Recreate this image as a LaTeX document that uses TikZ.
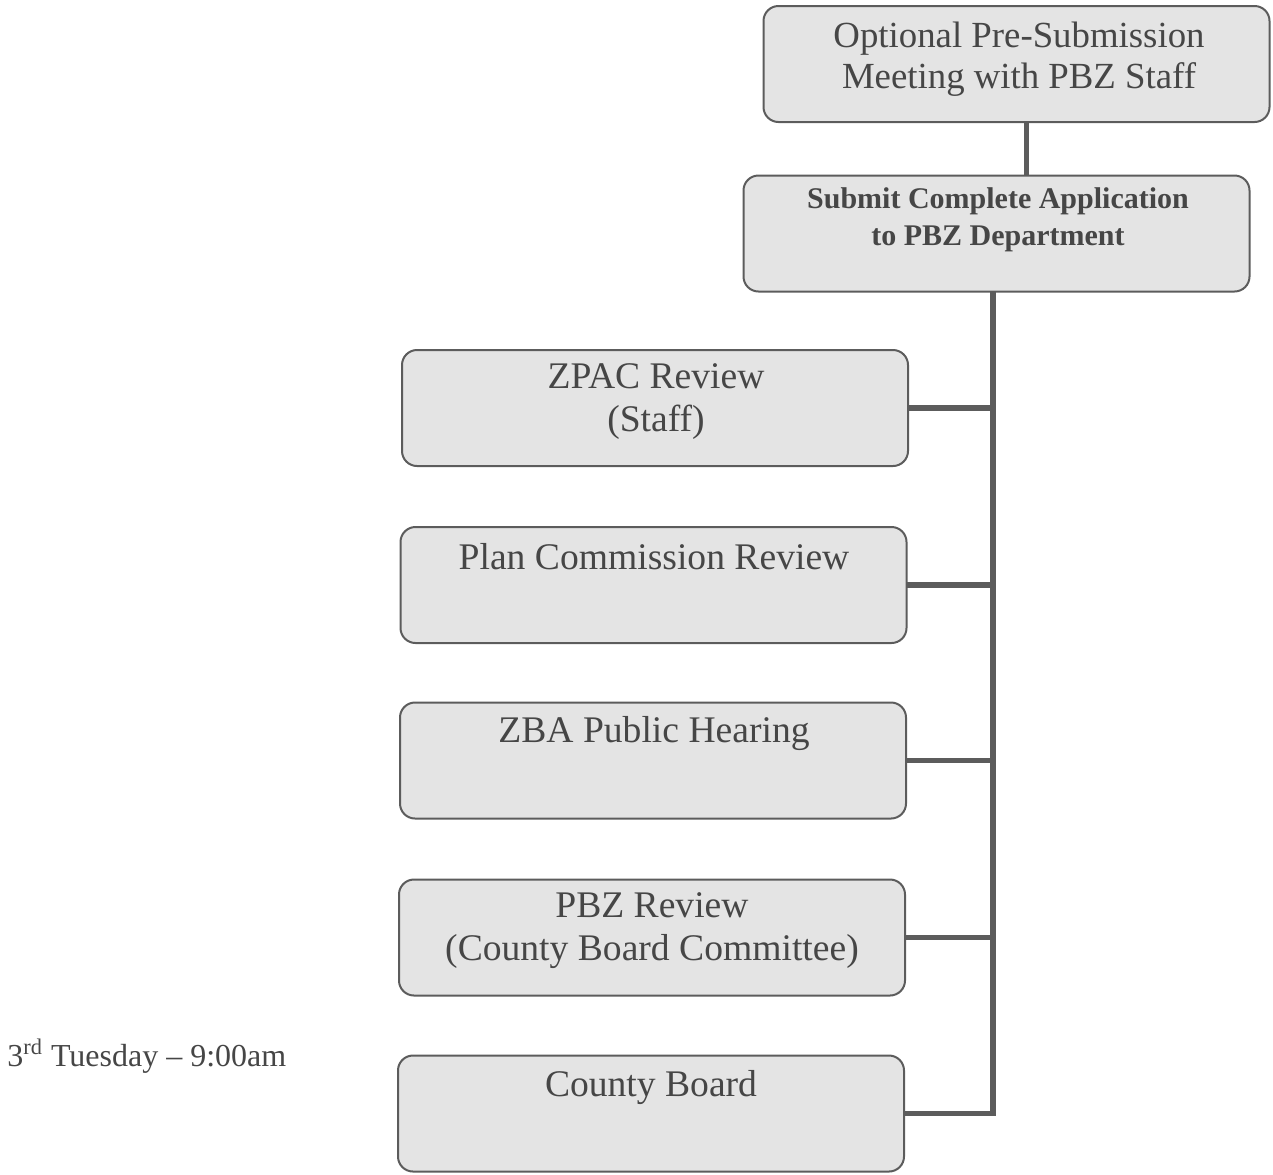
\documentclass[tikz,border=0pt]{standalone}
\usepackage{fontspec}
\setmainfont{Liberation Serif}
\usetikzlibrary{positioning}

\definecolor{boxfill}{HTML}{E4E4E4}
\definecolor{boxline}{HTML}{5C5C5C}
\definecolor{inkgray}{HTML}{464646}

\begin{document}
\begin{tikzpicture}[
    x=0.5pt, y=-0.5pt,
    every node/.style={align=center, text=inkgray},
    stagebox/.style={rectangle, draw=boxline, line width=1pt, fill=boxfill, rounded corners=7.5pt, minimum width=253pt, minimum height=58pt, inner sep=0pt, outer sep=0pt},
    stagetext/.style={font=\fontsize{18.8}{21.5}\selectfont, inner sep=0pt},
    link/.style={draw=boxline, line width=2.6pt}
]
\useasboundingbox (0,0) rectangle (1273,1174);

% boxes
\node[stagebox] (pre) at (1016.5,64) {};
\node[stagebox] (submit) at (996.5,233.5) {};
\node[stagebox] (zpac) at (655,408) {};
\node[stagebox] (plan) at (653.5,585) {};
\node[stagebox] (zba) at (653,760.5) {};
\node[stagebox] (pbz) at (652,937.5) {};
\node[stagebox] (county) at (651,1113.5) {};

% texts
\node[stagetext, font=\fontsize{18.4}{20.5}\selectfont] (pretext) at (1019,59) {Optional Pre-Submission\\Meeting with PBZ Staff};
\node[stagetext, font=\bfseries\fontsize{15}{18.5}\selectfont] (submittext) at (998,220) {Submit Complete Application\\to PBZ Department};
\node[stagetext] (zpactext) at (656,402) {ZPAC Review\\(Staff)};
\node[stagetext] (plantext) at (654,557) {Plan Commission Review};
\node[stagetext] (zbatext) at (654,733) {ZBA Public Hearing};
\node[stagetext] (pbztext) at (652,931) {PBZ Review\\(County Board Committee)};
\node[stagetext] (countytext) at (651,1087) {County Board};
\node[font=\fontsize{16}{18}\selectfont, inner sep=0pt, anchor=west] (meeting) at (7,1056) {3\textsuperscript{rd} Tuesday -- 9:00am};

% connectors
\coordinate (trunk) at (993,1113.5);
\draw[link] ([xshift=5pt]pre.south) -- ([xshift=5pt]pre.south |- submit.north);
\draw[link] (submit.south -| trunk) -- (trunk) -- (county.east);
\foreach \b in {zpac, plan, zba, pbz}
  \draw[link] (\b.east) -- (\b.east -| trunk);
\end{tikzpicture}
\end{document}
